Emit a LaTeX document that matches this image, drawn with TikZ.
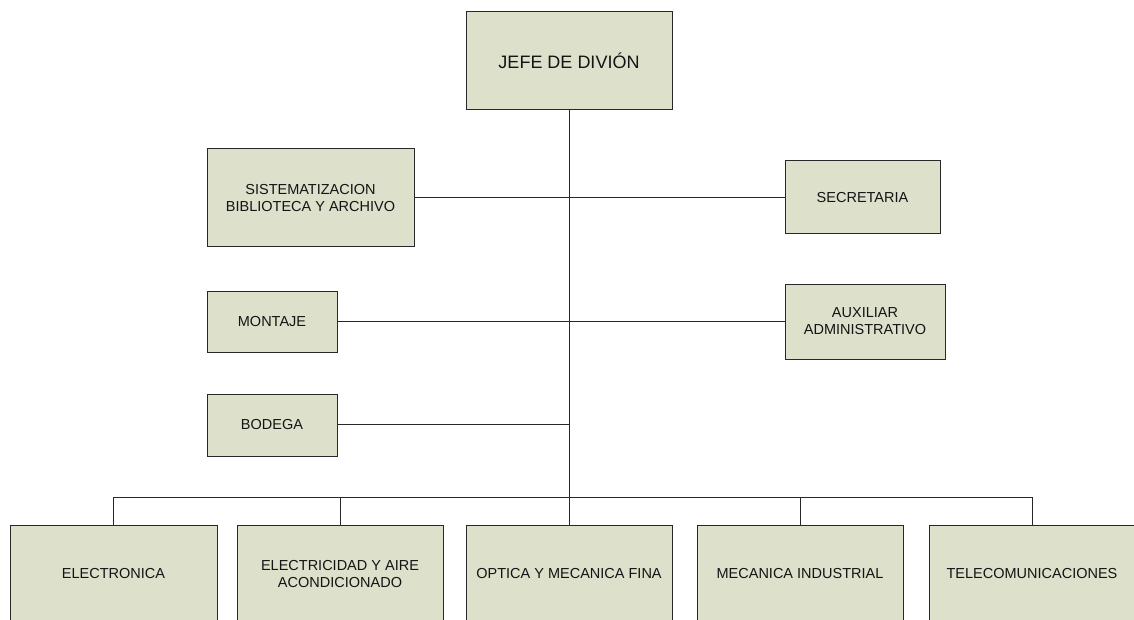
\documentclass[tikz,border=0pt]{standalone}
\usepackage{fontspec}
\setmainfont{Liberation Sans}
\definecolor{boxfill}{RGB}{221,224,203}
\definecolor{boxline}{RGB}{40,40,40}
\definecolor{txt}{RGB}{20,20,20}
\begin{document}
\begin{tikzpicture}[x=1pt,y=-1pt,
  orgbox/.style={draw=boxline, fill=boxfill, line width=1pt, inner sep=0pt, align=center,
    text=txt, font=\fontsize{14.5}{17}\selectfont},
  link/.style={draw=boxline, line width=1pt}]
\clip (0,0) rectangle (1134,620);
\useasboundingbox (0,0) rectangle (1134,620);
% boxes
\node[orgbox, minimum width=206pt, minimum height=98pt, font=\fontsize{18}{21}\selectfont] (jefe) at (569,61) {JEFE DE DIVIÓN};
\node[orgbox, minimum width=207pt, minimum height=98pt] (sist) at (310.5,198) {SISTEMATIZACION\\BIBLIOTECA Y ARCHIVO};
\node[orgbox, minimum width=155pt, minimum height=73pt] (secr) at (862.5,197.5) {SECRETARIA};
\node[orgbox, minimum width=130pt, minimum height=61pt] (mont) at (272,321.5) {MONTAJE};
\node[orgbox, minimum width=160pt, minimum height=75pt] (aux) at (865,321.5) {AUXILIAR\\ADMINISTRATIVO};
\node[orgbox, minimum width=130pt, minimum height=62pt] (bod) at (272,425) {BODEGA};
\node[orgbox, minimum width=207pt, minimum height=98pt] (b1) at (113.5,574) {ELECTRONICA};
\node[orgbox, minimum width=206pt, minimum height=98pt] (b2) at (340,574) {ELECTRICIDAD Y AIRE\\ACONDICIONADO};
\node[orgbox, minimum width=206pt, minimum height=98pt] (b3) at (569,574) {OPTICA Y MECANICA FINA};
\node[orgbox, minimum width=206pt, minimum height=98pt] (b4) at (800,574) {MECANICA INDUSTRIAL};
\node[orgbox, minimum width=206pt, minimum height=98pt] (b5) at (1032,574) {TELECOMUNICACIONES};
% junction coordinates
\coordinate (bus) at (569,497);
\coordinate (bodj) at (569,424);
% connectors
\draw[link] (jefe.south) -- (bus);
\draw[link] (sist.east) -- (secr.west |- sist.east);
\draw[link] (mont.east) -- (aux.west |- mont.east);
\draw[link] (bod.east |- bodj) -- (bodj);
\draw[link] (b1.north) |- (bus);
\draw[link] (b2.north) |- (bus);
\draw[link] (b3.north) -- (bus);
\draw[link] (b4.north) |- (bus);
\draw[link] (b5.north) |- (bus);
\end{tikzpicture}
\end{document}
